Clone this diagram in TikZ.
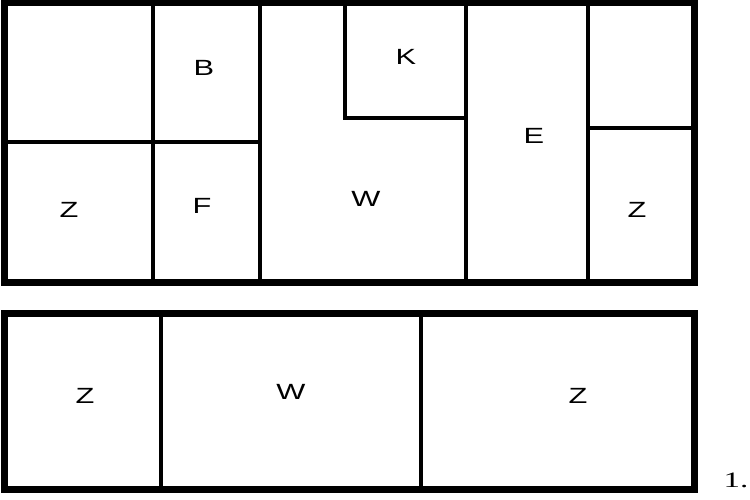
\documentclass[tikz,border=0pt]{standalone}
\usepackage{fontspec}
\setmainfont{Liberation Sans}
\newfontfamily\roomfont{Liberation Sans}[FakeStretch=1.4]
\newfontfamily\numfont{Liberation Serif}[FakeStretch=1.5]

\begin{document}
\begin{tikzpicture}[x=1pt,y=-1pt,
  outerwall/.style={line width=7pt},
  wall/.style={line width=4pt},
  room/.style={font=\roomfont\fontsize{22}{26}\selectfont}]

\useasboundingbox (0,0) rectangle (750,500);

% Define corners
\coordinate (TL) at (4.5,3);
\coordinate (TR) at (694,282);
\coordinate (BL) at (4.5,313);
\coordinate (BR) at (694,489);

% Upper plan
\draw[outerwall] (TL) rectangle (TR);
\draw[wall] (153,3) -- (153,282);
\draw[wall] (259.5,3) -- (259.5,282);
\draw[wall] (466,3) -- (466,282);
\draw[wall] (588,3) -- (588,282);
\draw[wall] (4.5,142.5) -- (259.5,142.5);
\draw[wall] (345,3) -- (345,118.5) -- (466,118.5);
\draw[wall] (588,128.5) -- (694,128.5);

% Upper room labels
\node[room] (b) at (204,68) {B};
\node[room] (k) at (406,57) {K};
\node[room] (e) at (534,136) {E};
\node[room] (z1) at (69,210) {Z};
\node[room] (f) at (202,206) {F};
\node[room] (w1) at (366,199) {W};
\node[room] (z2) at (637,210) {Z};

% Lower plan
\draw[outerwall] (BL) rectangle (BR);
\draw[wall] (161,313) -- (161,489);
\draw[wall] (421,313) -- (421,489);

% Lower room labels
\node[room] (z3) at (85,396) {Z};
\node[room] (w2) at (291,392) {W};
\node[room] (z4) at (578,396) {Z};

% Number
\node[font=\numfont\fontsize{22}{26}\selectfont] (num) at (736,480) {1.};

\end{tikzpicture}
\end{document}
